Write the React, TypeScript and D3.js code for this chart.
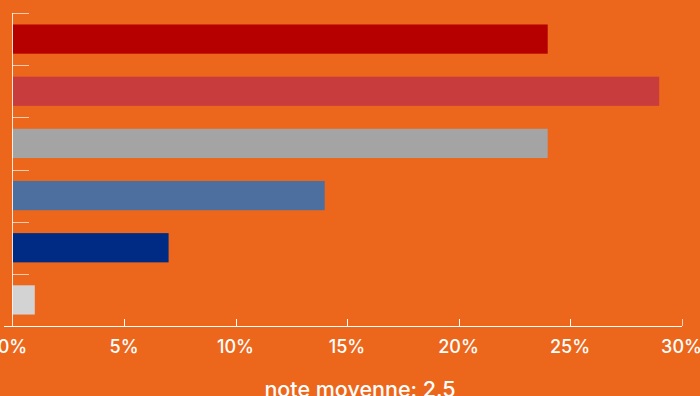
import React from "react";
import * as d3 from "d3";

const categories = ["1", "2", "3", "4", "5", "6"];
const values = [24, 29, 24, 14, 7, 1];
const barColors = ["#b60000", "#c93c3e", "#a4a4a4", "#4d6fa0", "#002b85", "#d3d3d3"];
const xTicks = [0, 5, 10, 15, 20, 25, 30];
const title = "note moyenne: 2.5";

const W = 700;
const H = 396;
const left = 12.5;
const right = 681.5;
const top = 13;
const bottom = 326;
const bg = "#ec671c";
const font = "Inter, 'Noto Sans', sans-serif";

export default function App() {
  const x = d3.scaleLinear().domain([0, 30]).range([left, right]);
  const y = d3
    .scaleBand<string>()
    .domain(categories)
    .range([top, bottom])
    .paddingInner(0.44)
    .paddingOuter(0.22);
  const step = y.step();
  const yTickPos = categories.map((_, i) => top + i * step);

  return (
    <div style={{ position: "fixed", left: 0, top: 0, width: W, height: H, background: bg }}>
      <svg width={W} height={H} style={{ display: "block" }}>
        <rect x={0} y={0} width={W} height={H} fill={bg} />
        {values.map((v, i) => (
          <rect
            key={i}
            x={x(0)}
            y={y(categories[i])}
            width={x(v) - x(0)}
            height={y.bandwidth()}
            fill={barColors[i]}
          />
        ))}
        {yTickPos.map((p, i) => (
          <line
            key={i}
            x1={left}
            x2={29}
            y1={Math.round(p) + 0.5}
            y2={Math.round(p) + 0.5}
            stroke="#ffffff"
            strokeOpacity={0.65}
            strokeWidth={1}
          />
        ))}
        <line x1={left} x2={left} y1={top} y2={bottom} stroke="#ffffff" strokeOpacity={0.85} strokeWidth={1} />
        <line x1={4} x2={right + 0.5} y1={bottom + 0.5} y2={bottom + 0.5} stroke="#ffffff" strokeWidth={1.2} />
        {xTicks.map((t) => (
          <g key={t}>
            {t !== 0 && (
              <line
                x1={Math.round(x(t)) + 0.5}
                x2={Math.round(x(t)) + 0.5}
                y1={bottom - 7}
                y2={bottom}
                stroke="#ffffff"
                strokeOpacity={t === 30 ? 0.7 : 1}
              />
            )}
            <text
              x={x(t)}
              y={353}
              textAnchor="middle"
              fill="#ffffff"
              fontFamily={font}
              fontSize={18}
              fontWeight={500}
            >
              {t}%
            </text>
          </g>
        ))}
        <text x={360} y={397} textAnchor="middle" fill="#ffffff" fontFamily={font} fontSize={21.5} fontWeight={500}>
          {title}
        </text>
      </svg>
    </div>
  );
}
